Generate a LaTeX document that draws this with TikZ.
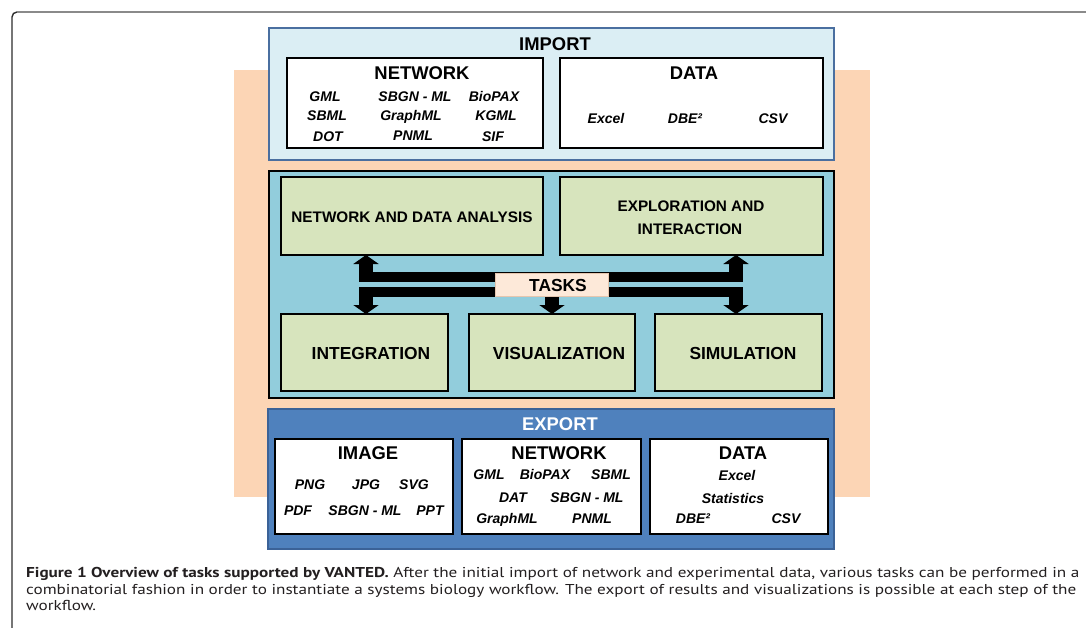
\documentclass[tikz,border=0pt]{standalone}
\usepackage{fontspec}
\setmainfont{Liberation Sans}
\newfontfamily\capfont[FakeStretch=1.2]{PT Sans}
\usetikzlibrary{arrows.meta}

\definecolor{peach}{HTML}{FCD5B5}
\definecolor{impfill}{HTML}{DBEEF4}
\definecolor{impdraw}{HTML}{4A6FA0}
\definecolor{midfill}{HTML}{92CDDC}
\definecolor{greenbox}{HTML}{D7E4BD}
\definecolor{tasksfill}{HTML}{FDE9D9}
\definecolor{tasksdraw}{HTML}{E6C6AE}
\definecolor{expfill}{HTML}{4F81BD}
\definecolor{expdraw}{HTML}{3B6297}
\definecolor{captext}{HTML}{231F20}
\definecolor{framegray}{HTML}{8A8A8A}
\definecolor{framedark}{HTML}{2E2E2E}

\tikzset{
  panel/.style={rectangle, inner sep=0pt, outer sep=0pt},
  whitebox/.style={panel, fill=white, draw=black, line width=1.8pt},
  greenpanel/.style={panel, fill=greenbox, draw=black, line width=1.5pt},
  hdr/.style={inner sep=0pt, text height=13.2pt, text depth=0pt,
    font=\fontsize{18.4}{20}\selectfont\bfseries},
  tasklbl/.style={inner sep=0pt, text height=12.4pt, text depth=0pt,
    font=\fontsize{17.4}{19}\selectfont\bfseries},
  smalllbl/.style={inner sep=0pt, text height=11pt, text depth=0pt,
    font=\fontsize{15.3}{17}\selectfont\bfseries},
  item/.style={inner sep=0pt, text height=10pt, text depth=0pt,
    font=\fontsize{14}{16}\selectfont\bfseries\itshape},
  bus/.style={line width=10pt, black},
  stem/.style={line width=14pt, black,
    -{Triangle[length=9pt 0 0, width=25pt 0 0]}},
  caprun/.style={anchor=base west, inner sep=0pt, text=captext,
    font=\capfont\fontsize{14.3}{16}\selectfont}
}

\begin{document}
\begin{tikzpicture}[x=1pt, y=-1pt]
\useasboundingbox (0,0) rectangle (1086,628);
\fill[white] (0,0) rectangle (1086,628);

% page frame
\draw[framedark, line width=1.4pt, rounded corners=5pt] (12,628) -- (12,12) -- (30,12);
\draw[framegray, line width=2pt] (17,12) -- (1086,12);

% peach backdrop
\node[panel, fill=peach, minimum width=636pt, minimum height=427pt] (back) at (552,283.5) {};

% ---------------- import ----------------
\node[panel, fill=impfill, draw=impdraw, line width=1.8pt,
      minimum width=565pt, minimum height=132pt] (import) at (551.5,94) {};
\node[hdr] (importlbl) at (555,44) {IMPORT};
\node[whitebox, minimum width=256pt, minimum height=90pt] (impnet) at (415,103) {};
\node[whitebox, minimum width=263pt, minimum height=90pt] (impdata) at (691.5,103) {};
\node[hdr] (impnetlbl) at (422,73) {NETWORK};
\node[hdr] (impdatalbl) at (694,73) {DATA};
\node[item] (i1) at (325,97) {GML};
\node[item] (i2) at (415,97) {SBGN - ML};
\node[item] (i3) at (494,97) {BioPAX};
\node[item] (i4) at (327,116) {SBML};
\node[item] (i5) at (411,116) {GraphML};
\node[item] (i6) at (496,116) {KGML};
\node[item] (i7) at (328,137) {DOT};
\node[item] (i8) at (413,136) {PNML};
\node[item] (i9) at (493,137) {SIF};
\node[item] (d1) at (606,119) {Excel};
\node[item] (d2) at (685,119) {DBE²};
\node[item] (d3) at (773,119) {CSV};

% ---------------- tasks ----------------
\node[panel, fill=midfill, draw=black, line width=1.8pt,
      minimum width=565pt, minimum height=227pt] (taskpanel) at (551.5,284.5) {};
\node[greenpanel, minimum width=262pt, minimum height=78pt] (nda) at (412,216) {};
\node[greenpanel, minimum width=263pt, minimum height=78pt] (expl) at (691.5,216) {};
\node[greenpanel, minimum width=167pt, minimum height=77pt] (integ) at (364.5,352.5) {};
\node[greenpanel, minimum width=166pt, minimum height=77pt] (visu) at (552,352.5) {};
\node[greenpanel, minimum width=167pt, minimum height=77pt] (simu) at (738.5,352.5) {};
\node[smalllbl] (ndalbl) at (412,217) {NETWORK AND DATA ANALYSIS};
\node[smalllbl] (expl1) at (691,206) {EXPLORATION AND};
\node[smalllbl] (expl2) at (690,229) {INTERACTION};
\node[tasklbl] (integlbl) at (371,353) {INTEGRATION};
\node[tasklbl] (visulbl) at (559,353) {VISUALIZATION};
\node[tasklbl] (simulbl) at (743,353) {SIMULATION};

% distribution bars and arrows
\coordinate (upL) at (359,277);
\coordinate (upR) at (743,277);
\coordinate (loL) at (359,292);
\coordinate (loR) at (743,292);
\coordinate (sL) at (366,0);
\coordinate (sM) at (552,0);
\coordinate (sR) at (736,0);
\draw[bus] (upL) -- (upR);
\draw[bus] (loL) -- (loR);
\draw[stem] (sL |- upL) -- (sL |- nda.south);
\draw[stem] (sR |- upL) -- (sR |- expl.south);
\draw[stem] (sL |- loL) -- (sL |- integ.north);
\draw[stem] (sM |- loL) -- (sM |- visu.north);
\draw[stem] (sR |- loL) -- (sR |- simu.north);
\node[panel, fill=tasksfill, draw=tasksdraw, line width=0.8pt,
      minimum width=113pt, minimum height=23pt] (tasks) at (551.5,284.5) {};
\node[tasklbl] (taskslbl) at (558,285) {TASKS};

% ---------------- export ----------------
\node[panel, fill=expfill, draw=expdraw, line width=1.8pt,
      minimum width=566pt, minimum height=140pt] (export) at (551,479) {};
\node[hdr, text=white] (exportlbl) at (560,424) {EXPORT};
\node[whitebox, minimum width=178pt, minimum height=95pt] (eimg) at (364,486.5) {};
\node[whitebox, minimum width=179pt, minimum height=95pt] (enet) at (551.5,486.5) {};
\node[whitebox, minimum width=178pt, minimum height=95pt] (edat) at (739,486.5) {};
\node[hdr] (eimglbl) at (368,453) {IMAGE};
\node[hdr] (enetlbl) at (559,453) {NETWORK};
\node[hdr] (edatlbl) at (743,453) {DATA};
\node[item] (e1) at (310,484) {PNG};
\node[item] (e2) at (366,484) {JPG};
\node[item] (e3) at (414,484) {SVG};
\node[item] (e4) at (298,510) {PDF};
\node[item] (e5) at (365,510) {SBGN - ML};
\node[item] (e6) at (430,510) {PPT};
\node[item] (n1) at (489,474) {GML};
\node[item] (n2) at (545,474) {BioPAX};
\node[item] (n3) at (611,474) {SBML};
\node[item] (n4) at (513,497) {DAT};
\node[item] (n5) at (587,497) {SBGN - ML};
\node[item] (n6) at (507,518) {GraphML};
\node[item] (n7) at (592,518) {PNML};
\node[item] (x1) at (737,475) {Excel};
\node[item] (x2) at (733,498) {Statistics};
\node[item] (x3) at (693,518) {DBE²};
\node[item] (x4) at (786,518) {CSV};

% ---------------- caption ----------------
\node[caprun] (cap1) at (26,577) {{\bfseries Figure 1 Overview of tasks supported by VANTED.} After the initial import of network and experimental data, various tasks can be performed in a};
\node[caprun] (cap2) at (26,594) {combinatorial fashion in order to instantiate a systems biology workflow. The export of results and visualizations is possible at each step of the};
\node[caprun] (cap3) at (26,610) {workflow.};
\end{tikzpicture}
\end{document}
